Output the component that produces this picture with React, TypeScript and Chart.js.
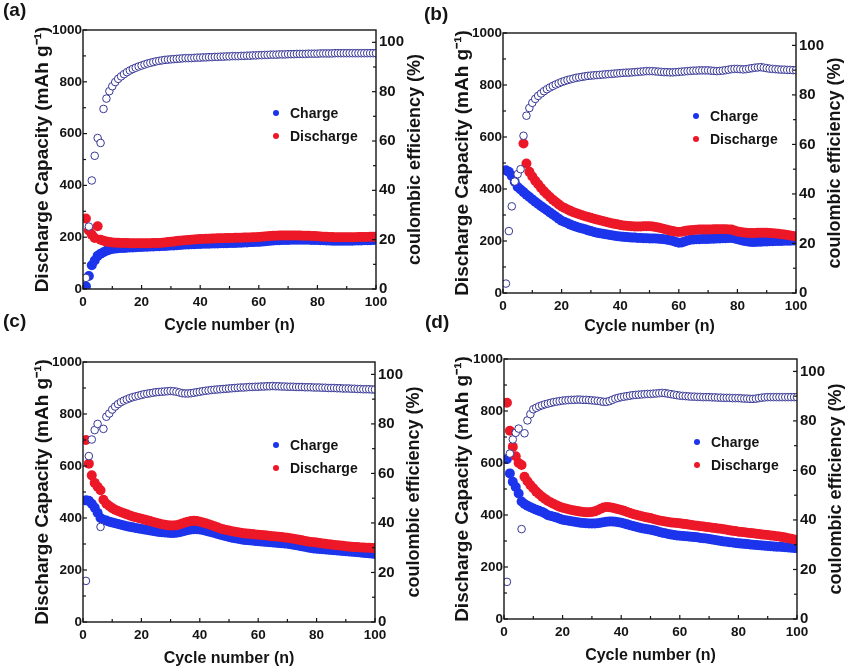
import React, { useEffect, useRef } from 'react';
import { Chart, registerables } from 'chart.js';

Chart.register(...registerables);

// ---------------- data ----------------
const CYCLES = [
  1, 2, 3, 4, 5, 6, 7, 8, 9, 10, 11, 12, 13, 14, 15, 16, 17, 18, 19, 20,
  21, 22, 23, 24, 25, 26, 27, 28, 29, 30, 31, 32, 33, 34, 35, 36, 37, 38, 39, 40,
  41, 42, 43, 44, 45, 46, 47, 48, 49, 50, 51, 52, 53, 54, 55, 56, 57, 58, 59, 60,
  61, 62, 63, 64, 65, 66, 67, 68, 69, 70, 71, 72, 73, 74, 75, 76, 77, 78, 79, 80,
  81, 82, 83, 84, 85, 86, 87, 88, 89, 90, 91, 92, 93, 94, 95, 96, 97, 98, 99, 100,
];

const X_TICKS = [0, 20, 40, 60, 80, 100];
const X_MINOR = [10, 30, 50, 70, 90];
const Y_TICKS = [0, 200, 400, 600, 800, 1000];
const Y_MINOR = [100, 300, 500, 700, 900];
const Y1_TICKS = [0, 20, 40, 60, 80, 100];
const Y1_MINOR = [10, 30, 50, 70, 90];

const SERIES_NAMES = ['Charge', 'Discharge'];

// (a)
const A_CHARGE = [
  10, 50, 92, 110, 128, 136, 142, 148, 152, 155,
  156, 157, 158, 158, 159, 160, 160, 161, 162, 162,
  163, 163, 164, 164, 165, 165, 166, 166, 167, 168,
  168, 169, 170, 171, 172, 172, 173, 173, 174, 174,
  175, 175, 175, 176, 176, 176, 177, 177, 177, 178,
  178, 178, 179, 179, 180, 180, 181, 181, 182, 182,
  183, 184, 185, 186, 187, 188, 188, 189, 189, 189,
  190, 190, 190, 190, 190, 190, 190, 189, 189, 189,
  188, 188, 187, 187, 186, 186, 186, 186, 186, 186,
  186, 186, 187, 187, 187, 188, 188, 188, 189, 190,
];
const A_DISCHARGE = [
  272, 226, 210, 197, 242, 190, 186, 183, 181, 180,
  179, 179, 178, 178, 178, 177, 177, 177, 177, 177,
  177, 177, 177, 178, 178, 178, 179, 180, 181, 182,
  183, 185, 186, 187, 188, 189, 190, 191, 192, 193,
  193, 194, 194, 195, 195, 196, 196, 196, 197, 197,
  197, 198, 198, 198, 199, 199, 199, 200, 200, 201,
  202, 203, 204, 205, 206, 206, 207, 207, 207, 207,
  207, 207, 207, 207, 206, 206, 206, 205, 205, 204,
  203, 202, 202, 201, 201, 200, 200, 200, 200, 200,
  200, 200, 200, 201, 201, 201, 201, 202, 202, 202,
];
const A_EFF = [
  4.5, 25.3, 44, 54, 61.2, 59.2, 73, 77.2, 80.2, 82.2,
  83.9, 85.2, 86.2, 87.1, 87.9, 88.6, 89.2, 89.7, 90.2, 90.6,
  91.0, 91.4, 91.7, 92.0, 92.3, 92.5, 92.7, 92.9, 93.0, 93.1,
  93.2, 93.3, 93.4, 93.5, 93.6, 93.6, 93.6, 93.7, 93.8, 93.8,
  93.9, 93.9, 94.0, 94.0, 94.1, 94.1, 94.2, 94.2, 94.3, 94.3,
  94.4, 94.4, 94.4, 94.5, 94.5, 94.6, 94.6, 94.7, 94.7, 94.8,
  94.8, 94.9, 94.9, 95.0, 95.0, 95.0, 95.1, 95.1, 95.1, 95.2,
  95.2, 95.2, 95.3, 95.3, 95.3, 95.3, 95.4, 95.4, 95.4, 95.4,
  95.5, 95.5, 95.5, 95.5, 95.5, 95.6, 95.6, 95.6, 95.6, 95.6,
  95.6, 95.6, 95.6, 95.6, 95.6, 95.6, 95.6, 95.6, 95.6, 95.6,
];

// (b)
const B_CHARGE = [
  472, 466, 450, 428, 408, 398, 388, 378, 369, 360,
  351, 342, 334, 326, 318, 310, 302, 294, 286, 278,
  273, 268, 263, 259, 255, 251, 248, 245, 241, 238,
  235, 232, 230, 228, 226, 224, 222, 220, 218, 217,
  216, 215, 214, 213, 213, 212, 212, 211, 211, 210,
  210, 210, 209, 208, 207, 205, 203, 200, 196, 193,
  194, 198, 202, 205, 206, 207, 207, 208, 208, 208,
  209, 209, 210, 210, 211, 211, 212, 212, 210, 207,
  204, 201, 199, 197, 196, 196, 197, 197, 198, 198,
  199, 199, 200, 200, 200, 201, 201, 201, 202, 202,
];
const B_DISCHARGE = [
  null, null, null, null, null, null, 575, 498, 466, 448,
  432, 418, 404, 391, 380, 369, 359, 350, 341, 333,
  327, 321, 316, 311, 307, 303, 299, 295, 292, 289,
  286, 283, 280, 277, 274, 271, 268, 266, 264, 262,
  260, 259, 258, 257, 256, 256, 256, 257, 257, 257,
  256, 254, 252, 249, 246, 243, 240, 238, 236, 235,
  236, 238, 240, 241, 242, 243, 244, 244, 244, 244,
  244, 245, 245, 245, 245, 245, 244, 244, 240, 237,
  235, 233, 232, 231, 231, 231, 232, 232, 232, 232,
  231, 230, 229, 228, 226, 225, 223, 221, 219, 217,
];
const B_EFF = [
  3.8, 25, 35, 45, 48, 50, 63.5, 71.6, 74.7, 76.8,
  78.4, 79.6, 80.6, 81.5, 82.3, 83.0, 83.6, 84.2, 84.7, 85.2,
  85.6, 86.0, 86.3, 86.6, 86.9, 87.1, 87.3, 87.5, 87.7, 87.8,
  87.9, 88.0, 88.1, 88.2, 88.3, 88.4, 88.5, 88.6, 88.7, 88.8,
  88.9, 89.0, 89.0, 89.1, 89.2, 89.3, 89.4, 89.5, 89.6, 89.6,
  89.6, 89.5, 89.4, 89.3, 89.2, 89.2, 89.1, 89.1, 89.2, 89.3,
  89.4, 89.5, 89.6, 89.7, 89.8, 89.8, 89.9, 89.9, 89.9, 89.9,
  89.8, 89.7, 89.6, 89.7, 89.8, 90.0, 90.2, 90.4, 90.5, 90.5,
  90.4, 90.3, 90.4, 90.6, 90.8, 91.0, 91.1, 91.2, 91.0, 90.8,
  90.6, 90.5, 90.4, 90.3, 90.2, 90.2, 90.1, 90.1, 90.0, 90.0,
];

// (c)
const C_CHARGE = [
  468, 466, 455, 440, 420, 400, 393, 390, 386, 383,
  380, 377, 374, 371, 368, 366, 364, 362, 360, 358,
  356, 354, 352, 350, 348, 346, 345, 344, 343, 342,
  342, 343, 345, 348, 351, 354, 356, 357, 357, 356,
  354, 351, 348, 345, 342, 339, 336, 333, 330, 327,
  324, 322, 320, 318, 316, 315, 314, 313, 312, 311,
  310, 309, 308, 307, 306, 305, 304, 303, 302, 301,
  299, 297, 295, 293, 291, 289, 287, 285, 283, 282,
  281, 280, 279, 278, 277, 276, 275, 274, 273, 272,
  271, 270, 269, 268, 267, 266, 265, 264, 263, 262,
];
const C_DISCHARGE = [
  700, 609, 564, 535, 520, 507, 470, 455, 446, 438,
  432, 427, 422, 418, 414, 410, 406, 403, 400, 397,
  394, 391, 388, 385, 382, 379, 376, 374, 372, 371,
  371, 372, 375, 379, 383, 386, 388, 389, 388, 386,
  383, 380, 376, 372, 368, 364, 360, 357, 354, 352,
  349, 347, 345, 343, 341, 340, 339, 338, 337, 336,
  335, 334, 333, 331, 330, 329, 328, 327, 325, 324,
  322, 320, 318, 316, 314, 312, 310, 308, 307, 306,
  304, 302, 301, 299, 298, 296, 295, 294, 293, 291,
  290, 289, 288, 288, 287, 287, 286, 286, 285, 285,
];
const C_EFF = [
  16.6, 67, 73.7, 77.5, 80, 38.4, 78, 82.9, 84.2, 85.8,
  87.0, 88.0, 88.8, 89.4, 89.9, 90.4, 90.8, 91.1, 91.4, 91.7,
  92.0, 92.2, 92.4, 92.6, 92.8, 92.9, 93.0, 93.1, 93.2, 93.3,
  93.2, 93.0, 92.7, 92.4, 92.3, 92.3, 92.4, 92.6, 92.8, 93.0,
  93.2, 93.4, 93.5, 93.7, 93.8, 93.9, 94.0, 94.1, 94.2, 94.3,
  94.4, 94.5, 94.6, 94.7, 94.7, 94.8, 94.9, 94.9, 95.0, 95.0,
  95.1, 95.1, 95.2, 95.2, 95.3, 95.2, 95.2, 95.1, 95.1, 95.0,
  95.0, 95.0, 94.9, 94.9, 94.9, 94.8, 94.8, 94.8, 94.7, 94.7,
  94.7, 94.6, 94.6, 94.5, 94.5, 94.5, 94.4, 94.4, 94.3, 94.3,
  94.3, 94.2, 94.2, 94.1, 94.1, 94.0, 94.0, 94.0, 93.9, 93.9,
];

// (d)
const D_CHARGE = [
  615, 560, 528, 508, 483, 452, 442, 436, 430, 425,
  420, 416, 412, 406, 399, 396, 393, 390, 386, 382,
  380, 378, 376, 374, 372, 370, 369, 368, 367, 367,
  367, 368, 370, 372, 374, 375, 375, 374, 372, 370,
  367, 364, 361, 358, 355, 352, 349, 347, 345, 343,
  341, 338, 335, 332, 330, 327, 325, 323, 321, 320,
  319, 318, 317, 316, 315, 314, 312, 311, 310, 308,
  306, 304, 302, 300, 298, 297, 295, 294, 292, 291,
  290, 289, 288, 287, 286, 285, 284, 283, 282, 281,
  280, 279, 278, 278, 277, 276, 275, 274, 273, 272,
];
const D_DISCHARGE = [
  832, 724, 662, 626, 600, 592, 547, 530, 515, 503,
  490, 480, 470, 462, 454, 448, 442, 437, 432, 428,
  425, 422, 419, 417, 415, 413, 412, 411, 411, 412,
  414, 418, 424, 429, 431, 430, 428, 425, 422, 419,
  416, 412, 408, 404, 401, 398, 395, 392, 390, 388,
  385, 382, 379, 377, 375, 373, 371, 370, 369, 368,
  366, 365, 363, 362, 360, 359, 357, 356, 354, 353,
  351, 350, 348, 347, 345, 343, 341, 339, 338, 336,
  335, 334, 332, 331, 330, 328, 327, 325, 324, 323,
  321, 320, 318, 317, 315, 313, 311, 309, 306, 304,
];
const D_EFF = [
  15, 66.8, 72.5, 75.2, 76.9, 36.3, 75, 80.2, 82.7, 84.7,
  85.3, 85.9, 86.3, 86.7, 87.0, 87.3, 87.6, 87.8, 88.0, 88.2,
  88.3, 88.4, 88.5, 88.5, 88.6, 88.6, 88.5, 88.5, 88.4, 88.3,
  88.2, 88.1, 87.9, 87.7, 87.7, 88.0, 88.5, 89.0, 89.3, 89.6,
  89.8, 90.0, 90.2, 90.4, 90.5, 90.6, 90.7, 90.8, 90.9, 90.9,
  91.0, 91.1, 91.2, 91.3, 91.2, 91.0, 90.8, 90.6, 90.4, 90.2,
  90.1, 90.0, 89.9, 89.8, 89.8, 89.7, 89.7, 89.6, 89.6, 89.6,
  89.5, 89.5, 89.4, 89.4, 89.3, 89.3, 89.3, 89.2, 89.2, 89.2,
  89.1, 89.0, 89.0, 88.9, 88.9, 89.0, 89.2, 89.4, 89.5, 89.6,
  89.6, 89.6, 89.6, 89.6, 89.6, 89.6, 89.6, 89.6, 89.6, 89.6,
];

// ---------------- styling ----------------
const FONT = "'Liberation Sans', Arial, Helvetica, sans-serif";
const BLUE = 'rgb(28, 52, 235)';
const RED = 'rgb(236, 24, 40)';
const EFF_EDGE = 'rgb(55, 55, 150)';
const INK = '#141414';

type PanelDef = {
  label: string;
  charge: (number | null)[];
  discharge: (number | null)[];
  eff: (number | null)[];
  canvas: { left: number; top: number; width: number; height: number };
  area: { left: number; top: number; right: number; bottom: number };
  xTitlePad: number;
  labelPos: { left: number; top: number };
};

const PANELS: PanelDef[] = [
  {
    label: '(a)', charge: A_CHARGE, discharge: A_DISCHARGE, eff: A_EFF,
    canvas: { left: 0, top: 0, width: 428, height: 336 },
    area: { left: 83, top: 30, right: 376, bottom: 289 },
    xTitlePad: 1, labelPos: { left: 3, top: 0 },
  },
  {
    label: '(b)', charge: B_CHARGE, discharge: B_DISCHARGE, eff: B_EFF,
    canvas: { left: 420, top: 0, width: 428, height: 336 },
    area: { left: 503, top: 33, right: 796, bottom: 293 },
    xTitlePad: 0, labelPos: { left: 424, top: 4 },
  },
  {
    label: '(c)', charge: C_CHARGE, discharge: C_DISCHARGE, eff: C_EFF,
    canvas: { left: 0, top: 336, width: 428, height: 336 },
    area: { left: 83, top: 362, right: 375, bottom: 622 },
    xTitlePad: 4, labelPos: { left: 3, top: 311 },
  },
  {
    label: '(d)', charge: D_CHARGE, discharge: D_DISCHARGE, eff: D_EFF,
    canvas: { left: 420, top: 336, width: 428, height: 336 },
    area: { left: 504, top: 359, right: 797, bottom: 619 },
    xTitlePad: 7, labelPos: { left: 425, top: 312 },
  },
];

function toPoints(values: (number | null)[]) {
  const pts: { x: number; y: number }[] = [];
  values.forEach((v, i) => {
    if (v !== null && v !== undefined) pts.push({ x: CYCLES[i], y: v });
  });
  return pts;
}

const plainLabel = (v: any) => String(v);

const decorPlugin = {
  id: 'decor',
  afterDatasetsDraw(chart: any) {
    const { ctx, chartArea, scales } = chart;
    const { left, right, top, bottom } = chartArea;
    ctx.save();
    ctx.strokeStyle = INK;
    ctx.lineWidth = 1.4;
    ctx.strokeRect(left, top, right - left, bottom - top);
    ctx.lineWidth = 1.2;
    const tick = (x1: number, y1: number, x2: number, y2: number) => {
      ctx.beginPath();
      ctx.moveTo(x1, y1);
      ctx.lineTo(x2, y2);
      ctx.stroke();
    };
    X_TICKS.forEach((v) => { const p = scales.x.getPixelForValue(v); tick(p, bottom, p, bottom - 4); });
    X_MINOR.forEach((v) => { const p = scales.x.getPixelForValue(v); tick(p, bottom, p, bottom - 3); });
    Y_TICKS.forEach((v) => { const p = scales.y.getPixelForValue(v); tick(left, p, left + 4, p); });
    Y_MINOR.forEach((v) => { const p = scales.y.getPixelForValue(v); tick(left, p, left + 3, p); });
    Y1_TICKS.forEach((v) => { const p = scales.y1.getPixelForValue(v); tick(right, p, right - 4, p); });
    Y1_MINOR.forEach((v) => { const p = scales.y1.getPixelForValue(v); tick(right, p, right - 3, p); });
    ctx.restore();
  },
  afterDraw(chart: any) {
    const { ctx, chartArea } = chart;
    const { left, right, top, bottom } = chartArea;
    ctx.save();
    // legend
    const colors = [BLUE, RED];
    SERIES_NAMES.forEach((name, i) => {
      const cx = left + 193;
      const cy = top + 83 + i * 23;
      ctx.fillStyle = colors[i];
      ctx.beginPath();
      ctx.arc(cx, cy, 3, 0, Math.PI * 2);
      ctx.fill();
      ctx.fillStyle = INK;
      ctx.font = `bold 14px ${FONT}`;
      ctx.textAlign = 'left';
      ctx.textBaseline = 'middle';
      ctx.fillText(name, cx + 14, cy + 1);
    });
    // right axis title (reads bottom to top)
    ctx.translate(right + 43.5, (top + bottom) / 2);
    ctx.rotate(-Math.PI / 2);
    ctx.font = `bold 18px ${FONT}`;
    ctx.fillStyle = INK;
    ctx.textAlign = 'center';
    ctx.textBaseline = 'alphabetic';
    ctx.fillText('coulombic efficiency (%)', 0, 0);
    ctx.restore();
  },
};

function Panel({ def }: { def: PanelDef }) {
  const ref = useRef<HTMLCanvasElement>(null);
  useEffect(() => {
    const c = def.canvas;
    const a = def.area;
    const leftW = a.left - c.left;
    const rightW = c.left + c.width - a.right;
    const topPad = a.top - c.top;
    const bottomH = c.top + c.height - a.bottom;
    const tickFont = { family: FONT, size: 13.5, weight: 'bold' as const };
    const chart = new Chart(ref.current as HTMLCanvasElement, {
      type: 'scatter',
      data: {
        datasets: [
          {
            label: 'coulombic efficiency',
            data: toPoints(def.eff),
            yAxisID: 'y1',
            order: 0,
            pointRadius: 3.8,
            pointBorderWidth: 1,
            pointBackgroundColor: '#ffffff',
            pointBorderColor: EFF_EDGE,
            backgroundColor: '#ffffff',
            borderColor: EFF_EDGE,
          },
          {
            label: SERIES_NAMES[1],
            data: toPoints(def.discharge),
            yAxisID: 'y',
            order: 1,
            pointRadius: 5,
            pointBorderWidth: 0,
            pointBackgroundColor: RED,
            backgroundColor: RED,
            borderColor: RED,
          },
          {
            label: SERIES_NAMES[0],
            data: toPoints(def.charge),
            yAxisID: 'y',
            order: 2,
            pointRadius: 5,
            pointBorderWidth: 0,
            pointBackgroundColor: BLUE,
            backgroundColor: BLUE,
            borderColor: BLUE,
          },
        ],
      },
      options: {
        responsive: false,
        animation: false,
        devicePixelRatio: 1,
        events: [],
        layout: { padding: { top: topPad, left: 0, right: 0, bottom: 0 } },
        plugins: { legend: { display: false }, tooltip: { enabled: false }, title: { display: false } },
        scales: {
          x: {
            type: 'linear',
            min: X_TICKS[0],
            max: X_TICKS[X_TICKS.length - 1],
            grid: { display: false, drawTicks: false },
            border: { display: false },
            ticks: { stepSize: 20, font: tickFont, color: INK, padding: 5, maxRotation: 0, autoSkip: false, callback: plainLabel },
            title: {
              display: true,
              text: 'Cycle number (n)',
              color: INK,
              font: { family: FONT, size: 16, weight: 'bold' },
              padding: { top: 0, bottom: def.xTitlePad },
            },
            afterFit: (s: any) => { s.height = bottomH; },
          },
          y: {
            type: 'linear',
            position: 'left',
            min: Y_TICKS[0],
            max: Y_TICKS[Y_TICKS.length - 1],
            grid: { display: false, drawTicks: false },
            border: { display: false },
            ticks: { stepSize: 200, font: tickFont, color: INK, padding: 1, callback: plainLabel },
            title: {
              display: true,
              text: 'Discharge Capacity (mAh g\u207B\u00B9)',
              color: INK,
              font: { family: FONT, size: 19, weight: 'bold' },
              padding: { top: 31, bottom: 0 },
            },
            afterFit: (s: any) => { s.width = leftW; },
          },
          y1: {
            type: 'linear',
            position: 'right',
            min: 0,
            max: 105,
            grid: { display: false, drawTicks: false },
            border: { display: false },
            ticks: {
              stepSize: 20,
              includeBounds: false,
              font: { family: FONT, size: 15, weight: 'bold' },
              color: INK,
              padding: 3,
              callback: plainLabel,
            },
            title: { display: false },
            afterFit: (s: any) => { s.width = rightW; },
          },
        },
      } as any,
      plugins: [decorPlugin],
    });
    return () => chart.destroy();
  }, [def]);
  const c = def.canvas;
  return (
    <canvas
      ref={ref}
      width={c.width}
      height={c.height}
      style={{ position: 'absolute', left: c.left, top: c.top, width: c.width, height: c.height }}
    />
  );
}

export default function App() {
  return (
    <div
      style={{
        position: 'absolute', left: 0, top: 0, width: 848, height: 672,
        background: '#ffffff', overflow: 'hidden',
      }}
    >
      {PANELS.map((p) => (
        <Panel key={p.label} def={p} />
      ))}
      {PANELS.map((p) => (
        <div
          key={'lbl' + p.label}
          style={{
            position: 'absolute', left: p.labelPos.left, top: p.labelPos.top,
            font: `bold 19px ${FONT}`, lineHeight: '19px', color: INK, zIndex: 2,
          }}
        >
          {p.label}
        </div>
      ))}
    </div>
  );
}
